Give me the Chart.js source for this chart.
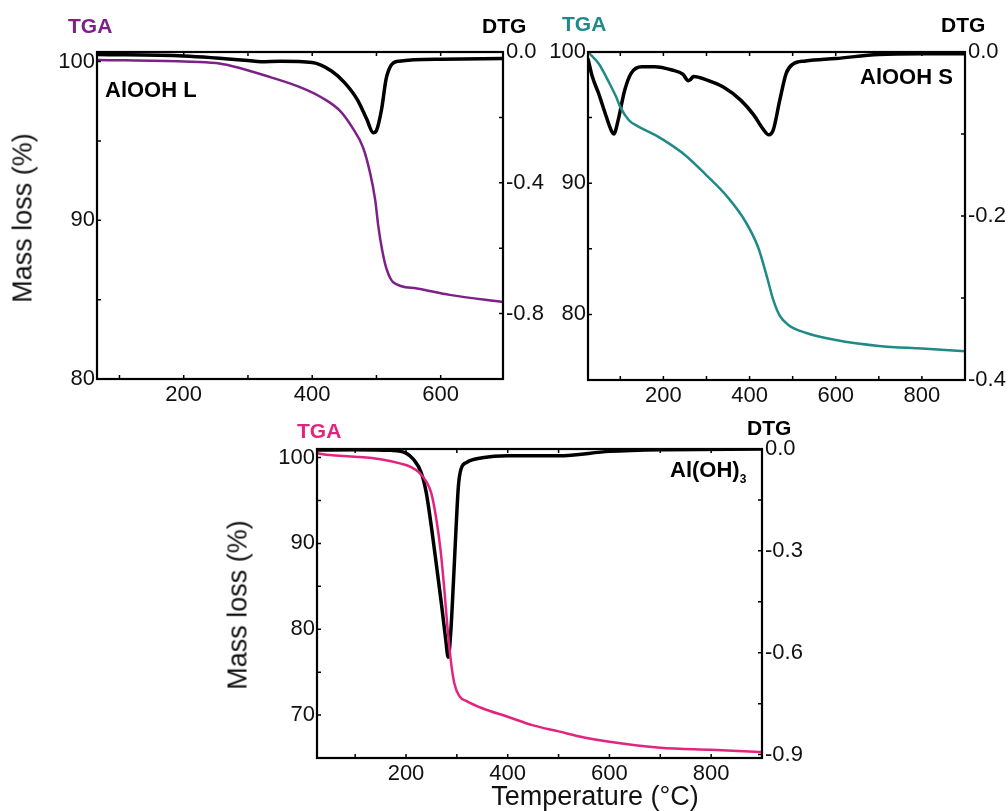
<!DOCTYPE html>
<html>
<head>
<meta charset="utf-8">
<script src="https://cdn.jsdelivr.net/npm/chart.js@4.4.1/dist/chart.umd.min.js"></script>
<style>
  body { margin: 0; background: #fff; width: 1008px; height: 811px; position: relative; overflow: hidden; }
  canvas { position: absolute; }
  .lbl { position: absolute; font-family: "Liberation Sans", Arial, sans-serif; white-space: nowrap; line-height: 1; transform: translateY(-50%); }
  .b { font-weight: bold; font-size: 21px; }
  .title { font-size: 27px; color: #111; }
  .rot { transform: translate(-50%, -50%) rotate(-90deg); }
</style>
</head>
<body>
<canvas id="c1" width="560" height="420" style="left:0;top:0"></canvas>
<canvas id="c2" width="468" height="420" style="left:540px;top:0"></canvas>
<canvas id="c3" width="608" height="411" style="left:200px;top:400px"></canvas>

<div class="lbl b" style="left:68px;top:25px;color:#7d2088">TGA</div>
<div class="lbl b" style="left:482px;top:25px">DTG</div>
<div class="lbl b" style="left:105px;top:90px;font-size:22px">AlOOH L</div>
<div class="lbl title rot" style="left:23px;top:218px">Mass loss (%)</div>

<div class="lbl b" style="left:562px;top:23px;color:#1f8a87">TGA</div>
<div class="lbl b" style="left:941px;top:24px">DTG</div>
<div class="lbl b" style="left:860px;top:77px;font-size:22px">AlOOH S</div>

<div class="lbl b" style="left:297px;top:430px;color:#e3247f">TGA</div>
<div class="lbl b" style="left:747px;top:427px">DTG</div>
<div class="lbl b" style="left:670px;top:472px;font-size:22px">Al(OH)<sub style="font-size:12px">3</sub></div>
<div class="lbl title rot" style="left:238px;top:605px">Mass loss (%)</div>
<div class="lbl title" style="left:595px;top:796px;transform:translate(-50%,-50%)">Temperature (°C)</div>

<script>
// AlOOH L
var tempL = [65, 200, 250, 276, 328, 380, 416, 443, 463, 479, 490, 498, 503, 509, 516, 526, 563, 614, 697];
var tgaL = [100.1, 100.0, 99.9, 99.7, 99.1, 98.4, 97.7, 96.9, 95.8, 94.6, 93.0, 91.3, 89.6, 88.1, 86.9, 86.1, 85.7, 85.3, 84.85];
var dtgTempL = [65, 200, 300, 320, 350, 400, 430, 450, 470, 485, 495, 500, 508, 515, 522, 535, 600, 697];
var dtgL = [-0.008, -0.012, -0.026, -0.03, -0.028, -0.032, -0.058, -0.093, -0.145, -0.206, -0.247, -0.24, -0.175, -0.083, -0.043, -0.028, -0.022, -0.02];

// AlOOH S
var tempS = [25, 50, 75, 90, 100, 120, 140, 170, 200, 250, 300, 350, 390, 420, 440, 455, 470, 490, 530, 600, 700, 800, 900];
var tgaS = [100.0, 99.1, 97.6, 96.6, 95.8, 94.8, 94.35, 93.85, 93.3, 92.15, 90.6, 88.9, 87.1, 85.1, 82.9, 81.1, 79.9, 79.2, 78.6, 78.05, 77.6, 77.4, 77.2];
var dtgTempS = [25, 35, 50, 65, 80, 85, 95, 110, 125, 150, 180, 220, 245, 258, 262, 270, 300, 340, 380, 410, 430, 445, 455, 470, 485, 500, 530, 600, 700, 800, 900];
var dtgS = [-0.008, -0.03, -0.051, -0.075, -0.097, -0.1, -0.083, -0.047, -0.026, -0.018, -0.018, -0.022, -0.027, -0.035, -0.034, -0.03, -0.034, -0.043, -0.059, -0.077, -0.093, -0.101, -0.095, -0.059, -0.026, -0.015, -0.011, -0.008, -0.003, -0.002, -0.002];

// Al(OH)3
var tempOH = [25, 50, 100, 150, 190, 210, 225, 240, 250, 260, 268, 275, 282, 288, 295, 305, 320, 350, 400, 450, 500, 550, 600, 700, 800, 900];
var tgaOH = [100.5, 100.3, 100.1, 99.8, 99.3, 98.9, 98.3, 97.2, 95.8, 92.7, 89.2, 84.9, 79.9, 76.4, 73.7, 72.2, 71.6, 70.8, 69.8, 68.8, 68.1, 67.4, 66.9, 66.2, 65.95, 65.7];
var dtgTempOH = [25, 100, 170, 200, 215, 230, 240, 250, 260, 270, 278, 283, 288, 293, 298, 303, 308, 320, 350, 400, 500, 600, 700, 900];
var dtgOH = [-0.003, -0.002, -0.004, -0.012, -0.031, -0.07, -0.13, -0.23, -0.344, -0.46, -0.56, -0.613, -0.54, -0.40, -0.246, -0.11, -0.06, -0.039, -0.026, -0.02, -0.02, -0.007, -0.002, 0];

var FONT = { family: '"Liberation Sans", Arial, sans-serif', size: 22 };

function pts(xs, ys){
    var out = [];
    for(let i=0; i<xs.length; i++){
        out.push({x: xs[i], y: ys[i]});
    }
    return out;
}

// box round the plot with small inward ticks on every side
var framePlugin = {
    id: 'frame',
    afterDatasetsDraw(chart){
        var ctx = chart.ctx, a = chart.chartArea, s = chart.scales;
        ctx.save();
        ctx.strokeStyle = '#000';
        ctx.lineWidth = 1.5;
        ctx.beginPath();
        s.x.ticks.forEach(function(t){
            var p = s.x.getPixelForValue(t.value);
            ctx.moveTo(p, a.bottom); ctx.lineTo(p, a.bottom - 4);
            ctx.moveTo(p, a.top); ctx.lineTo(p, a.top + 4);
        });
        s.y.ticks.forEach(function(t){
            var p = s.y.getPixelForValue(t.value);
            ctx.moveTo(a.left, p); ctx.lineTo(a.left + 4, p);
        });
        s.y1.ticks.forEach(function(t){
            var p = s.y1.getPixelForValue(t.value);
            ctx.moveTo(a.right, p); ctx.lineTo(a.right - 4, p);
        });
        ctx.stroke();
        ctx.lineWidth = 2.2;
        ctx.strokeRect(a.left, a.top, a.right - a.left, a.bottom - a.top);
        ctx.restore();
    }
};

function drawChart(id, cfg){
    var ax = { display: false };
    var noGrid = { display: false, drawTicks: false };
    new Chart(document.getElementById(id), {
        type: 'line',
        data: {
            datasets: [{
                data: pts(cfg.temp, cfg.tga),
                yAxisID: 'y',
                borderColor: cfg.color,
                borderWidth: 2.5,
                pointRadius: 0,
                tension: 0.4,
                cubicInterpolationMode: 'monotone'
            }, {
                data: pts(cfg.dtgTemp, cfg.dtg),
                yAxisID: 'y1',
                borderColor: '#000',
                borderWidth: 3.5,
                pointRadius: 0,
                tension: 0.4,
                cubicInterpolationMode: 'monotone'
            }]
        },
        options: {
            responsive: false,
            animation: false,
            devicePixelRatio: 1,
            layout: { padding: { top: cfg.top, left: 0, right: 0, bottom: 0 } },
            plugins: { legend: ax, tooltip: { enabled: false } },
            scales: {
                x: {
                    type: 'linear', min: cfg.xMin, max: cfg.xMax,
                    grid: noGrid, border: ax,
                    afterFit: function(s){ s.height = cfg.xH; },
                    ticks: {
                        stepSize: 100, includeBounds: false, autoSkip: false, maxRotation: 0,
                        color: '#111', font: FONT, padding: 3,
                        callback: function(v){ return (v % 200 === 0) ? v : ''; }
                    }
                },
                y: {
                    position: 'left', min: cfg.yMin, max: cfg.yMax,
                    grid: noGrid, border: ax,
                    afterFit: function(s){ s.width = cfg.yW; },
                    ticks: {
                        stepSize: 5, includeBounds: false, autoSkip: false,
                        color: '#111', font: FONT, padding: 2,
                        callback: function(v){ return (v % 10 === 0) ? v : ''; }
                    }
                },
                y1: {
                    position: 'right', min: cfg.dMin, max: 0,
                    grid: noGrid, border: ax,
                    afterFit: function(s){ s.width = cfg.y1W; },
                    ticks: {
                        stepSize: cfg.dStep, includeBounds: false, autoSkip: false,
                        color: '#111', font: FONT, padding: 3,
                        callback: function(v){
                            var k = Math.round(v * 100);
                            if(k % cfg.dLabel !== 0) return '';
                            return k === 0 ? '0.0' : (k / 100).toFixed(1);
                        }
                    }
                }
            }
        },
        plugins: [framePlugin]
    });
}

window.addEventListener("load", function(){
    drawChart('c1', {
        temp: tempL, tga: tgaL, dtgTemp: dtgTempL, dtg: dtgL, color: '#7d2088',
        xMin: 65, xMax: 697, yMin: 80, yMax: 100.6, dMin: -1.0, dStep: 0.2, dLabel: 40,
        top: 52, xH: 41, yW: 97, y1W: 57
    });
    drawChart('c2', {
        temp: tempS, tga: tgaS, dtgTemp: dtgTempS, dtg: dtgS, color: '#1f8a87',
        xMin: 25, xMax: 900, yMin: 75, yMax: 100, dMin: -0.4, dStep: 0.1, dLabel: 20,
        top: 52, xH: 40, yW: 48, y1W: 43
    });
    drawChart('c3', {
        temp: tempOH, tga: tgaOH, dtgTemp: dtgTempOH, dtg: dtgOH, color: '#e3247f',
        xMin: 25, xMax: 900, yMin: 65, yMax: 101, dMin: -0.91, dStep: 0.15, dLabel: 30,
        top: 49, xH: 53, yW: 117, y1W: 46
    });
});
</script>
</body>
</html>
